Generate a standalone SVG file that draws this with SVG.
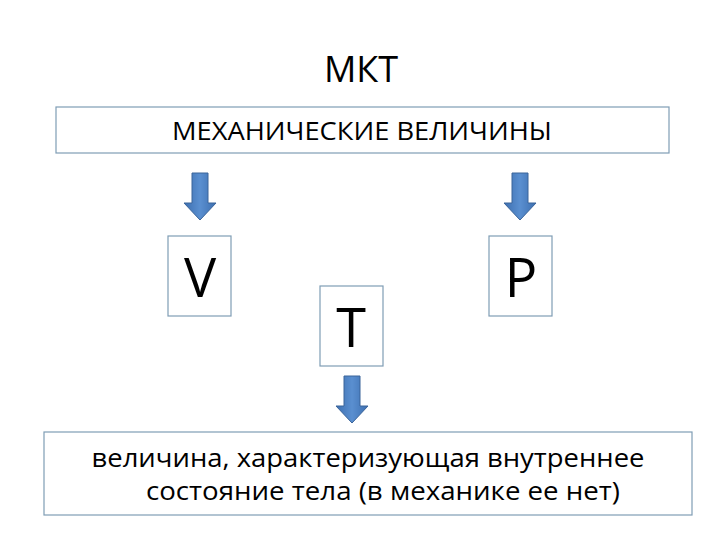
<svg xmlns="http://www.w3.org/2000/svg" width="720" height="540" viewBox="0 0 720 540">
<defs>
<linearGradient id="ag" x1="0" y1="0" x2="1" y2="0">
<stop offset="0" stop-color="#3d6fb0"/>
<stop offset="0.5" stop-color="#5a8fd0"/>
<stop offset="1" stop-color="#3d6fb0"/>
</linearGradient>
<path id="arrow" d="M -8 0 H 8 V 30 H 16 L 0 47 L -16 30 H -8 Z"/>
</defs>
<style>
.box{fill:#ffffff;stroke:#7f9db5;stroke-width:1.2}
.t{font-family:"Open Sans","Liberation Sans",sans-serif;fill:#000;text-anchor:middle}
.arr{fill:url(#ag);stroke:#3a649a;stroke-width:1}
</style>
<rect width="720" height="540" fill="#ffffff"/>
<text class="t" x="361" y="82" font-size="36">МКТ</text>
<g id="mech">
<rect class="box" x="56" y="107" width="613" height="46"/>
<text class="t" x="362" y="140" font-size="26" textLength="380" lengthAdjust="spacingAndGlyphs">МЕХАНИЧЕСКИЕ ВЕЛИЧИНЫ</text>
</g>
<g id="V">
<rect class="box" x="168" y="236" width="63" height="80"/>
<text class="t" x="200" y="297" font-size="54">V</text>
</g>
<g id="T">
<rect class="box" x="320" y="286" width="63" height="80"/>
<text class="t" x="351" y="347" font-size="54">T</text>
</g>
<g id="P">
<rect class="box" x="489" y="236" width="63" height="80"/>
<text class="t" x="521" y="297" font-size="54">P</text>
</g>
<g id="desc">
<rect class="box" x="44" y="432" width="648" height="83"/>
<text class="t" x="368" y="467" font-size="26" textLength="553" lengthAdjust="spacingAndGlyphs">величина, характеризующая внутреннее</text>
<text class="t" x="383" y="500" font-size="26" textLength="474" lengthAdjust="spacingAndGlyphs">состояние тела (в механике ее нет)</text>
</g>
<g id="connectors">
<use href="#arrow" class="arr" transform="translate(200,173)"/>
<use href="#arrow" class="arr" transform="translate(520,173)"/>
<use href="#arrow" class="arr" transform="translate(352,376)"/>
</g>
</svg>
